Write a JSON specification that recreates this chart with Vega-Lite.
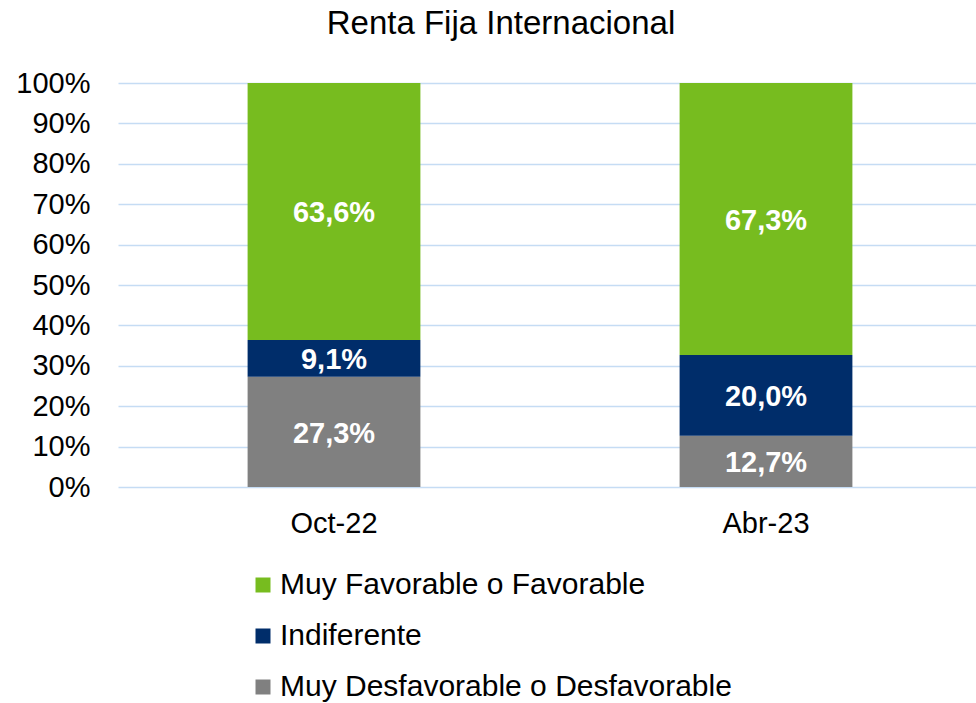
{
  "$schema": "https://vega.github.io/schema/vega-lite/v6.json",
  "autosize": "none",
  "padding": {"left": 118, "top": 83, "right": 0, "bottom": 216},
  "width": 864,
  "height": 404,
  "background": "white",
  "title": {
    "text": "Renta Fija Internacional",
    "font": "Liberation Sans",
    "fontSize": 33,
    "fontWeight": "normal",
    "color": "#000000",
    "anchor": "middle",
    "frame": "group",
    "dx": -49,
    "baseline": "alphabetic",
    "offset": 2
  },
  "config": {
    "view": {"stroke": null},
    "locale": {
      "number": {"decimal": ",", "thousands": ".", "grouping": [3], "currency": ["", "€"]}
    },
    "font": "Liberation Sans"
  },
  "data": {
    "values": [
      {"period": "Oct-22", "category": "Muy Desfavorable o Desfavorable", "rank": 1, "value": 0.273},
      {"period": "Oct-22", "category": "Indiferente", "rank": 2, "value": 0.091},
      {"period": "Oct-22", "category": "Muy Favorable o Favorable", "rank": 3, "value": 0.636},
      {"period": "Abr-23", "category": "Muy Desfavorable o Desfavorable", "rank": 1, "value": 0.127},
      {"period": "Abr-23", "category": "Indiferente", "rank": 2, "value": 0.2},
      {"period": "Abr-23", "category": "Muy Favorable o Favorable", "rank": 3, "value": 0.673}
    ]
  },
  "encoding": {
    "x": {
      "field": "period",
      "type": "nominal",
      "sort": ["Oct-22", "Abr-23"],
      "scale": {"paddingInner": 0.6, "paddingOuter": 0.3},
      "axis": {
        "title": null,
        "labelAngle": 0,
        "labelFont": "Liberation Sans",
        "labelFontSize": 29,
        "labelColor": "#000000",
        "labelPadding": 22,
        "ticks": false,
        "domain": false,
        "grid": false
      }
    }
  },
  "layer": [
    {
      "mark": {"type": "bar", "stroke": null},
      "encoding": {
        "y": {
          "field": "value",
          "type": "quantitative",
          "stack": "zero",
          "scale": {"domain": [0, 1], "nice": false},
          "axis": {
            "title": null,
            "format": ".0%",
            "values": [0, 0.1, 0.2, 0.3, 0.4, 0.5, 0.6, 0.7, 0.8, 0.9, 1],
            "labelFont": "Liberation Sans",
            "labelFontSize": 29,
            "labelColor": "#000000",
            "labelPadding": 28,
            "ticks": false,
            "domain": false,
            "grid": true,
            "gridColor": "#C5DCF4",
            "gridWidth": 1.5
          }
        },
        "color": {
          "field": "category",
          "type": "nominal",
          "scale": {
            "domain": ["Muy Favorable o Favorable", "Indiferente", "Muy Desfavorable o Desfavorable"],
            "range": ["#77BC1F", "#002D6A", "#808080"]
          },
          "legend": {
            "title": null,
            "orient": "none",
            "direction": "vertical",
            "legendX": 130,
            "legendY": 487,
            "padding": 0,
            "symbolType": "square",
            "symbolSize": 225,
            "symbolStrokeWidth": 0,
            "labelFont": "Liberation Sans",
            "labelFontSize": 30,
            "labelColor": "#000000",
            "labelOffset": 2,
            "rowPadding": 21,
            "labelLimit": 600
          }
        },
        "order": {"field": "rank", "type": "quantitative"}
      }
    },
    {
      "transform": [
        {"stack": "value", "groupby": ["period"], "sort": [{"field": "rank", "order": "ascending"}], "as": ["y0", "y1"]},
        {"fold": ["y0", "y1"], "as": ["edge", "pos"]}
      ],
      "mark": {
        "type": "text",
        "font": "Liberation Sans",
        "fontSize": 29,
        "fontWeight": "bold",
        "color": "white",
        "baseline": "middle",
        "dy": 2
      },
      "encoding": {
        "y": {"aggregate": "mean", "field": "pos", "type": "quantitative"},
        "text": {"field": "value", "type": "quantitative", "format": ".1%"}
      }
    }
  ]
}
